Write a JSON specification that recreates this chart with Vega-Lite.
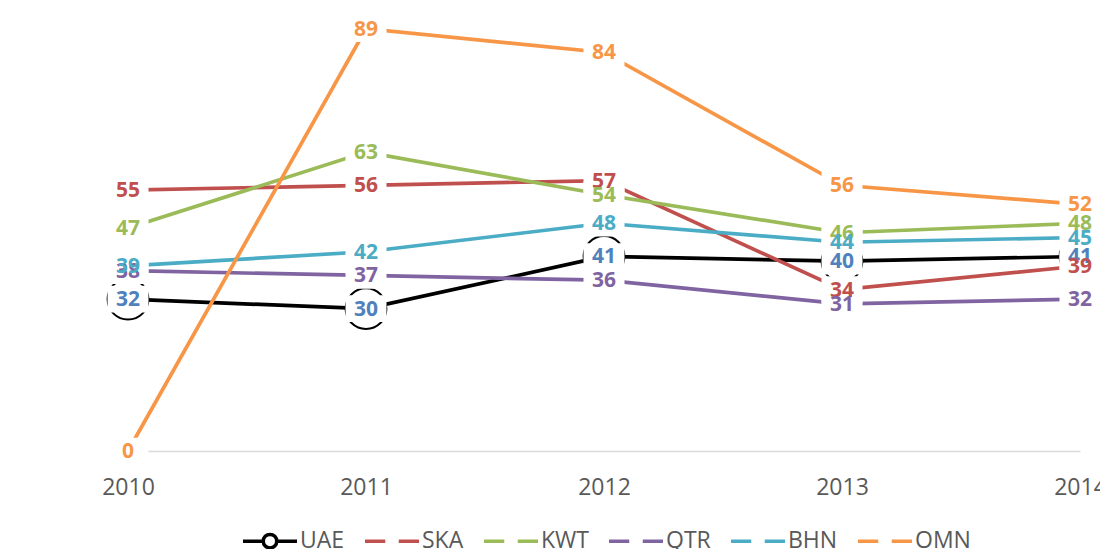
{
  "$schema": "https://vega.github.io/schema/vega-lite/v6.json",
  "width": 1091,
  "height": 427,
  "autosize": {"type": "none"},
  "padding": {"left": 9, "top": 24, "right": 0, "bottom": 98},
  "background": "white",
  "config": {"view": {"stroke": null}, "font": "Open Sans"},
  "data": {"values": [
    {"year": "2010", "series": "UAE", "value": 32},
    {"year": "2011", "series": "UAE", "value": 30},
    {"year": "2012", "series": "UAE", "value": 41},
    {"year": "2013", "series": "UAE", "value": 40},
    {"year": "2014", "series": "UAE", "value": 41},
    {"year": "2010", "series": "SKA", "value": 55},
    {"year": "2011", "series": "SKA", "value": 56},
    {"year": "2012", "series": "SKA", "value": 57},
    {"year": "2013", "series": "SKA", "value": 34},
    {"year": "2014", "series": "SKA", "value": 39},
    {"year": "2010", "series": "KWT", "value": 47},
    {"year": "2011", "series": "KWT", "value": 63},
    {"year": "2012", "series": "KWT", "value": 54},
    {"year": "2013", "series": "KWT", "value": 46},
    {"year": "2014", "series": "KWT", "value": 48},
    {"year": "2010", "series": "QTR", "value": 38},
    {"year": "2011", "series": "QTR", "value": 37},
    {"year": "2012", "series": "QTR", "value": 36},
    {"year": "2013", "series": "QTR", "value": 31},
    {"year": "2014", "series": "QTR", "value": 32},
    {"year": "2010", "series": "BHN", "value": 39},
    {"year": "2011", "series": "BHN", "value": 42},
    {"year": "2012", "series": "BHN", "value": 48},
    {"year": "2013", "series": "BHN", "value": 44},
    {"year": "2014", "series": "BHN", "value": 45},
    {"year": "2010", "series": "OMN", "value": 0},
    {"year": "2011", "series": "OMN", "value": 89},
    {"year": "2012", "series": "OMN", "value": 84},
    {"year": "2013", "series": "OMN", "value": 56},
    {"year": "2014", "series": "OMN", "value": 52}
  ]},
  "encoding": {
    "x": {
      "field": "year", "type": "ordinal",
      "scale": {"type": "point", "domain": ["2010", "2011", "2012", "2013", "2014"], "range": [119, 1071], "padding": 0},
      "axis": {"title": null, "ticks": false, "domainColor": "#d9d9d9", "domainWidth": 1.5, "labelFont": "Open Sans", "labelFontSize": 23, "labelColor": "#595959", "labelPadding": 25, "labelAngle": 0}
    },
    "y": {
      "field": "value", "type": "quantitative",
      "scale": {"domain": [0, 90], "nice": false, "zero": true},
      "axis": null
    }
  },
  "layer": [
    {
      "mark": {"type": "line", "strokeWidth": 3.7},
      "encoding": {
        "color": {
          "field": "series", "type": "nominal",
          "scale": {"domain": ["UAE", "SKA", "KWT", "QTR", "BHN", "OMN"], "range": ["#000000", "#c0504d", "#9bbb59", "#8064a2", "#4bacc6", "#f79646"]},
          "legend": {
            "title": null, "orient": "none", "direction": "horizontal",
            "legendX": 232, "legendY": 488,
            "symbolType": "M-1,0L-0.25,0M0.25,0L1,0M0,-0.25L0,-0.25M0,0.25L0,0.25",
            "symbolSize": 2916, "symbolStrokeWidth": 3.5, "symbolFillColor": "white",
            "labelFont": "Open Sans", "labelFontSize": 23, "labelColor": "#595959",
            "columnPadding": 13, "labelOffset": 1,
            "encode": {"symbols": {"update": {
              "shape": {"signal": "datum.value === 'UAE' ? 'M-1,0L-0.25,0M0.25,0L1,0M0.25,0A0.25,0.25 0 1 1 -0.25,0A0.25,0.25 0 1 1 0.25,0' : 'M-1,0L-0.25,0M0.25,0L1,0M0,-0.25L0,-0.25M0,0.25L0,0.25'"},
              "fill": {"value": "white"},
              "fillOpacity": {"value": 0}
            }}}
          }
        }
      }
    },
    {
      "transform": [{"filter": "datum.series === 'UAE'"}],
      "mark": {"type": "point", "shape": "circle", "size": 1662, "filled": true, "fill": "white", "stroke": "black", "strokeWidth": 2, "opacity": 1}
    },
    {
      "mark": {"type": "point", "shape": "M-1,-0.65L1,-0.65L1,0.65L-1,0.65Z", "size": 1680, "filled": true, "fill": "white", "strokeWidth": 0, "opacity": 1}
    },
    {
      "mark": {"type": "text", "font": "Open Sans", "fontSize": 21, "fontWeight": "bold", "align": "center", "baseline": "middle", "dy": 1},
      "encoding": {
        "text": {"field": "value", "type": "quantitative"},
        "color": {
          "condition": {"test": "datum.series === 'UAE'", "value": "#4f81bd"},
          "field": "series", "type": "nominal", "legend": null
        }
      }
    }
  ]
}
